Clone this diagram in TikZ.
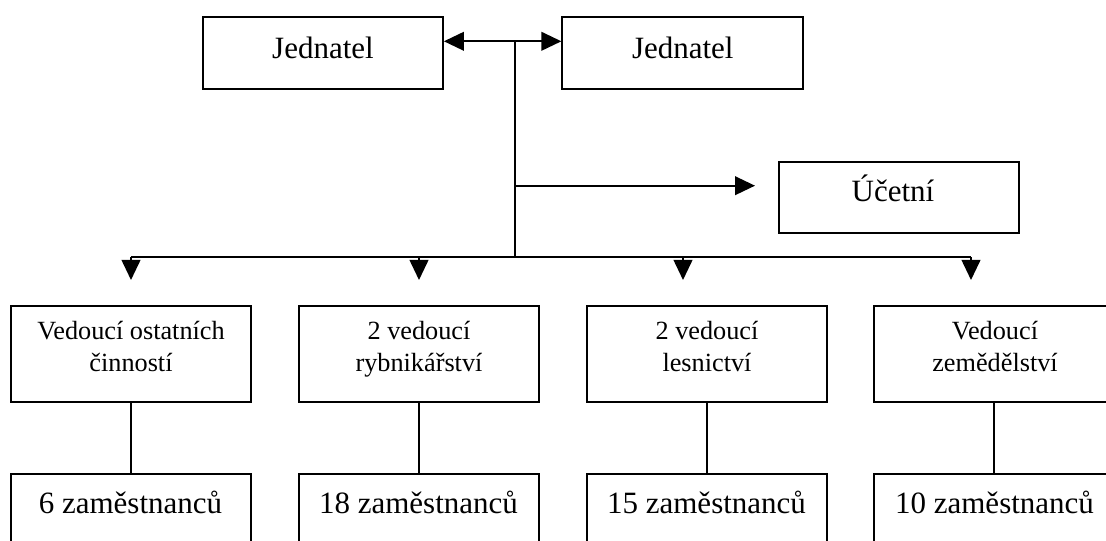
\documentclass[tikz,border=0pt]{standalone}
\usepackage{fontspec}
\setmainfont{Liberation Serif}
\usetikzlibrary{arrows.meta}
\begin{document}
\begin{tikzpicture}[x=0.75pt,y=-0.75pt,
  box/.style={draw, line width=1.4pt, inner sep=0pt},
  bigtext/.style={font=\fontsize{23.25pt}{28pt}\selectfont, inner sep=0pt, anchor=base},
  smalltext/.style={font=\fontsize{19.7pt}{23.8pt}\selectfont, inner sep=0pt, align=center, anchor=base},
  conn/.style={line width=1.4pt},
  arr/.style={conn, -{Triangle[length=15pt,width=14pt]}},
  dbl/.style={conn, {Triangle[length=15pt,width=14pt]}-{Triangle[length=15pt,width=14pt]}},
  toprow/.style={box, minimum width=180pt, minimum height=54pt},
  midrow/.style={box, minimum width=180pt, minimum height=72pt},
]
\useasboundingbox (0,0) rectangle (1106,541);
\clip (0,0) rectangle (1106,541);

% top boxes
\node[toprow] (j1) at (323,53.3) {};
\node[toprow, minimum width=180.75pt] (j2) at (682.8,53.3) {};
\node[toprow, minimum width=180.2pt, minimum height=53.7pt] (uc) at (898.8,197.5) {};
\node[bigtext] (j1t) at (323,58.3) {Jednatel};
\node[bigtext] (j2t) at (682.8,58.3) {Jednatel};
\node[bigtext] (uct) at (893,201.7) {Účetní};

% middle row
\node[midrow] (r1) at (130.85,353.7) {};
\node[midrow] (r2) at (418.85,353.7) {};
\node[midrow] (r3) at (706.85,353.7) {};
\node[midrow] (r4) at (994.3,353.7) {};
\node[smalltext] (r1t) at (131,371.7) {Vedoucí ostatních\\činností};
\node[smalltext] (r2t) at (419,371.7) {2 vedoucí\\rybnikářství};
\node[smalltext] (r3t) at (707,371.7) {2 vedoucí\\lesnictví};
\node[smalltext] (r4t) at (995,371.7) {Vedoucí\\zemědělství};

% bottom row
\node[midrow] (e1) at (130.85,521.7) {};
\node[midrow] (e2) at (418.85,521.7) {};
\node[midrow] (e3) at (706.85,521.7) {};
\node[midrow] (e4) at (994.3,521.7) {};
\node[bigtext] (e1t) at (130.5,513.3) {6 zaměstnanců};
\node[bigtext] (e2t) at (418.5,513.3) {18 zaměstnanců};
\node[bigtext] (e3t) at (706.5,513.3) {15 zaměstnanců};
\node[bigtext] (e4t) at (994.5,513.3) {10 zaměstnanců};

% connector points
\coordinate (hub) at (515,41.3);
\coordinate (bus) at (515,257.3);
\coordinate (ucin) at (755,185.7);
\coordinate (t1) at (131,280);
\coordinate (t2) at (419,280);
\coordinate (t3) at (683,280);
\coordinate (t4) at (971,280);

\draw[dbl] (j1.east |- hub) -- (j2.west |- hub);
\draw[conn] (hub) -- (bus);
\draw[arr] (hub |- ucin) -- (ucin);
\draw[conn] (t1 |- bus) -- (t4 |- bus);
\foreach \i in {1,2,3,4} {
  \draw[arr] (t\i |- bus) -- (t\i);
  \draw[conn] (r\i.south) -- (e\i.north);
}
\end{tikzpicture}
\end{document}
